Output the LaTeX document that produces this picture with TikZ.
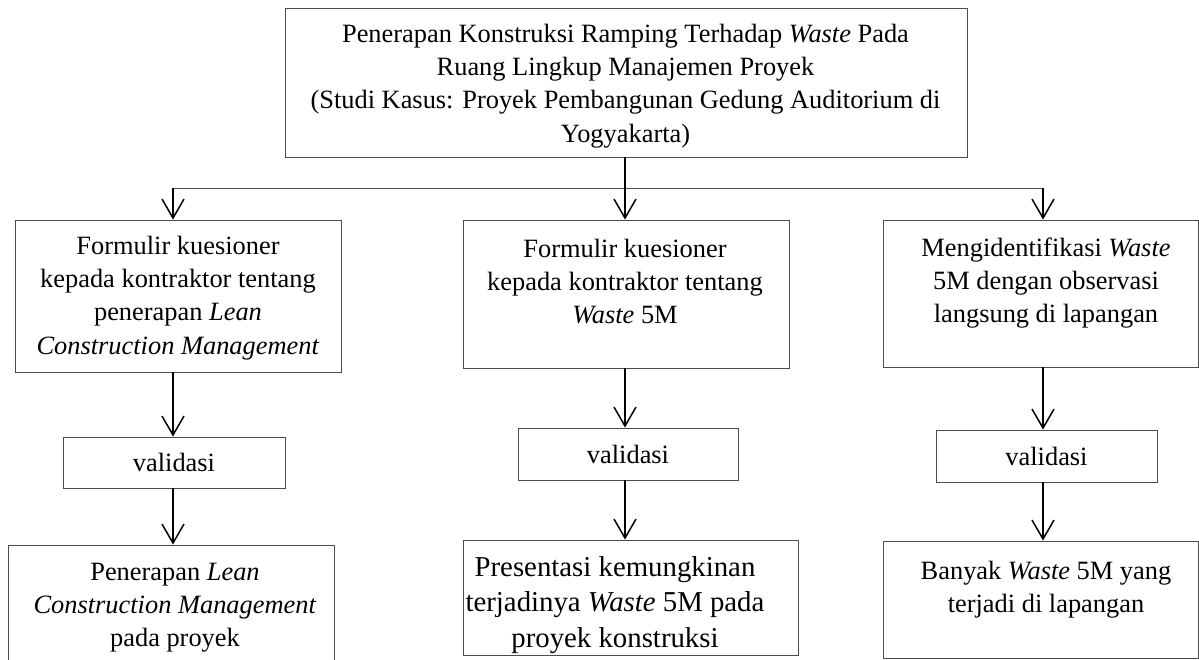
\documentclass[tikz,border=0pt]{standalone}
\usepackage{fontspec}
\setmainfont{Liberation Serif}
\usetikzlibrary{arrows.meta}
\newcommand{\fl}{\rule{0pt}{19pt}}
\newcommand{\flb}{\rule{0pt}{20pt}}
\begin{document}
\begin{tikzpicture}[x=1pt,y=-1pt,
  box/.style={draw=black!70, line width=0.9pt, inner sep=0pt, font=\fontsize{26.4}{33.3}\selectfont},
  txt/.style={align=center, inner sep=0pt, anchor=north, font=\fontsize{26.4}{33.3}\selectfont},
  bigtxt/.style={txt, font=\fontsize{28.8}{35.5}\selectfont},
  arr/.style={line width=1.5pt, -{Straight Barb[length=19pt,width=22pt,line width=1.5pt]}},
  link/.style={draw=black!70, line width=0.9pt}]
\useasboundingbox (0,0) rectangle (1199,659);
\clip (0,0) rectangle (1199,659);
% boxes
\node[box, minimum width=682pt, minimum height=149pt] (T) at (626,82.5) {};
\node[box, minimum width=326pt, minimum height=152pt] (L1) at (178,296) {};
\node[box, minimum width=326pt, minimum height=148pt] (M1) at (626,294) {};
\node[box, minimum width=315pt, minimum height=147pt] (R1) at (1040.5,293.5) {};
\node[box, minimum width=222pt, minimum height=51pt] (LV) at (174,462.5) {validasi};
\node[box, minimum width=220pt, minimum height=52pt] (MV) at (628,454) {validasi};
\node[box, minimum width=221pt, minimum height=52pt] (RV) at (1046.5,456) {validasi};
\node[box, minimum width=326pt, minimum height=155pt] (L2) at (171,622.5) {};
\node[box, minimum width=335pt, minimum height=115pt] (M2) at (630.5,597.5) {};
\node[box, minimum width=315pt, minimum height=117pt] (R2) at (1040.5,599.5) {};
% texts
\node[txt] (tT) at (625.5,23) {\fl Penerapan Konstruksi Ramping Terhadap \textit{Waste} Pada\\Ruang Lingkup Manajemen Proyek\\(Studi Kasus: Proyek Pembangunan Gedung Auditorium di\\Yogyakarta)};
\node[txt] (tL1) at (178,235) {\fl Formulir kuesioner\\kepada kontraktor tentang\\penerapan \textit{Lean}\\\textit{Construction Management}};
\node[txt] (tM1) at (625,238) {\fl Formulir kuesioner\\kepada kontraktor tentang\\\textit{Waste} 5M};
\node[txt] (tR1) at (1046,237) {\fl Mengidentifikasi \textit{Waste}\\5M dengan observasi\\langsung di lapangan};
\node[txt] (tL2) at (175,561) {\fl Penerapan \textit{Lean}\\\textit{Construction Management}\\pada proyek};
\node[bigtxt] (tM2) at (615,556) {\flb Presentasi kemungkinan\\terjadinya \textit{Waste} 5M pada\\proyek konstruksi};
\node[txt] (tR2) at (1046,560) {\fl Banyak \textit{Waste} 5M yang\\terjadi di lapangan};
% connectors
\coordinate (lc) at (173,0);
\coordinate (mc) at (625,0);
\coordinate (rc) at (1043,0);
\coordinate (hl) at (173,188);
\coordinate (hr) at (1043,188);
\draw[link] (hl) -- (hr);
\draw[arr] (T.south -| mc) -- (M1.north -| mc);
\draw[arr] (hl) -- (L1.north -| hl);
\draw[arr] (hr) -- (R1.north -| hr);
\draw[arr] (L1.south -| lc) -- (LV.north -| lc);
\draw[arr] (LV.south -| lc) -- (L2.north -| lc);
\draw[arr] (M1.south -| mc) -- (MV.north -| mc);
\draw[arr] (MV.south -| mc) -- (M2.north -| mc);
\draw[arr] (R1.south -| rc) -- (RV.north -| rc);
\draw[arr] (RV.south -| rc) -- (R2.north -| rc);
\end{tikzpicture}
\end{document}
